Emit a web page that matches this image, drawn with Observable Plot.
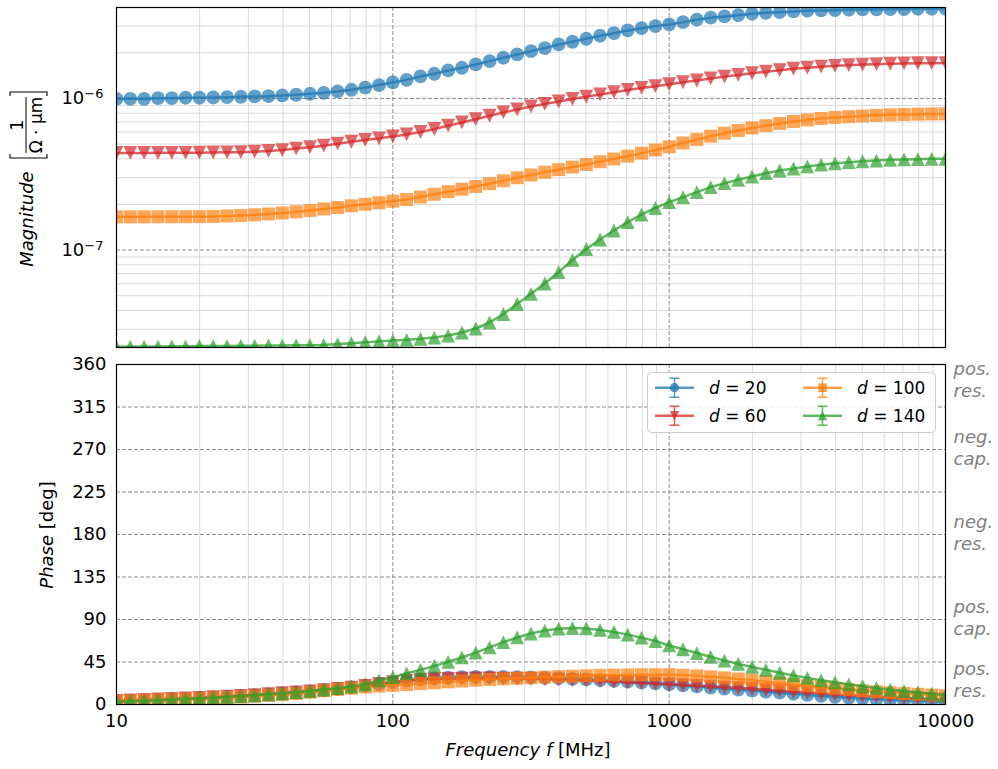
<!DOCTYPE html>
<html>
<head>
<meta charset="utf-8">
<script src="https://cdn.jsdelivr.net/npm/d3@7"></script>
<script src="https://cdn.jsdelivr.net/npm/@observablehq/plot@0.6"></script>
<style>
  html, body { margin: 0; padding: 0; background: #fff; overflow: hidden; }
  #chart { position: relative; width: 998px; height: 769px; font-family: "DejaVu Sans", sans-serif; }
  #chart svg { position: absolute; left: 0; overflow: visible; }
</style>
</head>
<body>
<div id="chart"></div>
<script>
// Sweep frequencies [MHz], 20 points per decade
const freq = [10, 11.22, 12.59, 14.13, 15.85, 17.78, 19.95, 22.39, 25.12, 28.18,
  31.62, 35.48, 39.81, 44.67, 50.12, 56.23, 63.10, 70.79, 79.43, 89.13,
  100, 112.2, 125.9, 141.3, 158.5, 177.8, 199.5, 223.9, 251.2, 281.8,
  316.2, 354.8, 398.1, 446.7, 501.2, 562.3, 631.0, 707.9, 794.3, 891.3,
  1000, 1122, 1259, 1413, 1585, 1778, 1995, 2239, 2512, 2818,
  3162, 3548, 3981, 4467, 5012, 5623, 6310, 7079, 7943, 8913, 10000];

const seriesLabels = ["20", "60", "100", "140"];
const seriesColors = ["#1f77b4", "#d62728", "#ff7f0e", "#2ca02c"];

// Magnitude [1/(Ω·µm)]
const mag20 = [0.995e-6, 0.995e-6, 0.995e-6, 1.005e-6, 1.005e-6, 1.011e-6, 1.011e-6, 1.015e-6, 1.020e-6, 1.026e-6,
  1.031e-6, 1.036e-6, 1.047e-6, 1.058e-6, 1.074e-6, 1.090e-6, 1.112e-6, 1.141e-6, 1.180e-6, 1.225e-6,
  1.275e-6, 1.328e-6, 1.397e-6, 1.455e-6, 1.530e-6, 1.594e-6, 1.676e-6, 1.762e-6, 1.856e-6, 1.951e-6,
  2.051e-6, 2.147e-6, 2.271e-6, 2.366e-6, 2.476e-6, 2.592e-6, 2.696e-6, 2.809e-6, 2.909e-6, 2.999e-6,
  3.078e-6, 3.187e-6, 3.306e-6, 3.408e-6, 3.475e-6, 3.544e-6, 3.620e-6, 3.675e-6, 3.709e-6, 3.749e-6,
  3.789e-6, 3.806e-6, 3.824e-6, 3.847e-6, 3.865e-6, 3.865e-6, 3.882e-6, 3.882e-6, 3.906e-6, 3.906e-6, 3.906e-6];
const mag60 = [0.437e-6, 0.437e-6, 0.437e-6, 0.438e-6, 0.438e-6, 0.438e-6, 0.439e-6, 0.440e-6, 0.441e-6, 0.442e-6,
  0.446e-6, 0.451e-6, 0.457e-6, 0.467e-6, 0.477e-6, 0.488e-6, 0.503e-6, 0.518e-6, 0.533e-6, 0.546e-6,
  0.562e-6, 0.579e-6, 0.601e-6, 0.629e-6, 0.661e-6, 0.695e-6, 0.730e-6, 0.769e-6, 0.809e-6, 0.846e-6,
  0.886e-6, 0.920e-6, 0.955e-6, 0.992e-6, 1.026e-6, 1.063e-6, 1.100e-6, 1.138e-6, 1.173e-6, 1.205e-6,
  1.241e-6, 1.279e-6, 1.314e-6, 1.355e-6, 1.393e-6, 1.429e-6, 1.466e-6, 1.502e-6, 1.537e-6, 1.570e-6,
  1.597e-6, 1.621e-6, 1.641e-6, 1.658e-6, 1.673e-6, 1.684e-6, 1.694e-6, 1.702e-6, 1.707e-6, 1.710e-6, 1.712e-6];
const mag100 = [0.1655e-6, 0.1656e-6, 0.1657e-6, 0.1658e-6, 0.1659e-6, 0.1660e-6, 0.1662e-6, 0.1666e-6, 0.1679e-6, 0.1691e-6,
  0.1709e-6, 0.1730e-6, 0.1757e-6, 0.1789e-6, 0.1825e-6, 0.1867e-6, 0.1910e-6, 0.1960e-6, 0.2005e-6, 0.2051e-6,
  0.2102e-6, 0.2157e-6, 0.2240e-6, 0.2334e-6, 0.2428e-6, 0.2522e-6, 0.2627e-6, 0.2742e-6, 0.2865e-6, 0.2999e-6,
  0.3130e-6, 0.3261e-6, 0.3392e-6, 0.3528e-6, 0.3670e-6, 0.3824e-6, 0.3990e-6, 0.4164e-6, 0.4358e-6, 0.4574e-6,
  0.4802e-6, 0.5087e-6, 0.5366e-6, 0.5641e-6, 0.5904e-6, 0.6151e-6, 0.6389e-6, 0.6616e-6, 0.6841e-6, 0.7051e-6,
  0.7225e-6, 0.7381e-6, 0.7494e-6, 0.7585e-6, 0.7666e-6, 0.7736e-6, 0.7795e-6, 0.7843e-6, 0.7878e-6, 0.7903e-6, 0.7927e-6];
const mag140 = [0.0230e-6, 0.0231e-6, 0.0231e-6, 0.0231e-6, 0.0232e-6, 0.0232e-6, 0.0233e-6, 0.0233e-6, 0.0233e-6, 0.0234e-6,
  0.0234e-6, 0.0235e-6, 0.0235e-6, 0.0236e-6, 0.0236e-6, 0.0237e-6, 0.0240e-6, 0.0243e-6, 0.0247e-6, 0.0250e-6,
  0.0253e-6, 0.0256e-6, 0.0260e-6, 0.0265e-6, 0.0273e-6, 0.0286e-6, 0.0304e-6, 0.0333e-6, 0.0379e-6, 0.0441e-6,
  0.0515e-6, 0.0602e-6, 0.0715e-6, 0.0861e-6, 0.1017e-6, 0.1174e-6, 0.1346e-6, 0.1528e-6, 0.1717e-6, 0.1895e-6,
  0.2070e-6, 0.2234e-6, 0.2409e-6, 0.2600e-6, 0.2762e-6, 0.2908e-6, 0.3058e-6, 0.3216e-6, 0.3350e-6, 0.3453e-6,
  0.3560e-6, 0.3659e-6, 0.3738e-6, 0.3800e-6, 0.3853e-6, 0.3899e-6, 0.3936e-6, 0.3960e-6, 0.3978e-6, 0.3996e-6, 0.4002e-6];

// Phase [deg]
const phase20 = [3.5, 3.9, 4.4, 4.9, 5.4, 6.0, 6.6, 7.3, 8.0, 8.8,
  9.7, 10.6, 11.6, 12.7, 13.9, 15.2, 16.6, 18.2, 19.9, 21.7,
  23.6, 25.3, 26.7, 27.8, 28.5, 29.0, 29.2, 29.3, 29.2, 29.0,
  28.7, 28.3, 27.8, 27.2, 26.5, 25.8, 25.0, 24.2, 23.3, 22.3,
  21.3, 20.2, 19.1, 18.0, 16.9, 15.8, 14.7, 13.6, 12.5, 11.4,
  10.2, 9.1, 8.1, 7.2, 6.4, 5.7, 5.1, 4.5, 4.0, 3.5, 3.0];
const phase60 = [3.9, 4.3, 4.8, 5.3, 5.8, 6.4, 7.0, 7.7, 8.4, 9.2,
  10.0, 10.9, 11.9, 12.9, 14.0, 15.2, 16.5, 17.9, 19.8, 21.8,
  23.7, 25.2, 26.2, 26.8, 27.2, 27.5, 27.6, 27.6, 27.5, 27.3,
  27.0, 26.7, 26.3, 25.8, 25.3, 24.7, 24.1, 23.5, 22.8, 22.1,
  21.4, 20.6, 19.8, 19.0, 18.2, 17.4, 16.6, 15.5, 14.5, 13.5,
  12.6, 11.6, 10.7, 9.8, 9.0, 8.3, 7.6, 7.0, 6.4, 5.9, 5.4];
const phase100 = [3.6, 3.9, 4.3, 4.7, 5.1, 5.6, 6.1, 6.7, 7.3, 8.0,
  8.7, 9.5, 10.4, 11.5, 13.0, 14.5, 16.0, 17.3, 18.5, 19.5,
  20.3, 21.2, 22.1, 23.0, 24.0, 24.9, 25.7, 26.5, 27.2, 27.8,
  28.4, 29.0, 29.5, 30.0, 30.4, 30.8, 31.1, 31.3, 31.5, 31.6,
  31.6, 31.0, 30.3, 29.3, 28.2, 27.0, 25.6, 24.2, 22.8, 21.3,
  19.9, 18.5, 17.1, 15.8, 14.6, 13.5, 12.5, 11.6, 10.8, 10.0, 9.3];
const phase140 = [3.0, 3.5, 4.0, 4.6, 5.2, 5.8, 6.5, 7.2, 8.0, 8.9,
  9.8, 10.8, 11.9, 13.1, 14.4, 15.8, 17.3, 19.1, 21.3, 25.5,
  29.0, 33.0, 36.7, 40.8, 45.2, 49.8, 55.0, 60.5, 66.0, 71.0,
  75.2, 78.3, 80.3, 81.0, 80.5, 79.0, 76.8, 74.0, 70.8, 67.2,
  62.5, 58.5, 54.5, 50.5, 46.5, 43.0, 39.8, 36.7, 33.6, 30.8,
  28.2, 25.7, 23.5, 21.3, 19.3, 17.5, 15.8, 14.2, 12.8, 11.4, 10.0];

const magnitude = [mag20, mag60, mag100, mag140];
const phase = [phase20, phase60, phase100, phase140];

// Axis ticks and annotations
const freqTicks = [10, 100, 1000, 10000];
const magTicks = [1e-7, 1e-6];
const magDomain = [2.278e-8, 3.98e-6];
const phaseTicks = [0, 45, 90, 135, 180, 225, 270, 315, 360];
const regionText = ["pos.\nres.", "pos.\ncap.", "neg.\nres.", "neg.\ncap.", "pos.\nres."];
const regionPhase = [27, 93, 183, 273, 345];

// Marker shapes (circle, triangle down, square, triangle up)
const rOf = size => Math.sqrt(size / Math.PI);
const circle = {draw(ctx, size) { const r = rOf(size); ctx.moveTo(r, 0); ctx.arc(0, 0, r, 0, 2 * Math.PI); ctx.closePath(); }};
const square = {draw(ctx, size) { const r = rOf(size) * 0.94; ctx.rect(-r, -r, 2 * r, 2 * r); }};
const triUp = {draw(ctx, size) { const r = rOf(size); ctx.moveTo(0, -r); ctx.lineTo(r, r); ctx.lineTo(-r, r); ctx.closePath(); }};
const triDown = {draw(ctx, size) { const r = rOf(size); ctx.moveTo(0, r); ctx.lineTo(r, -r); ctx.lineTo(-r, -r); ctx.closePath(); }};
const markers = [circle, triDown, square, triUp];

const FONT = "DejaVu Sans, sans-serif";
const gridMinor = "#dadada";
const gridMajor = "#8c8c8c";

const isMajor = t => Math.abs(Math.log10(t) - Math.round(Math.log10(t))) < 1e-9;
const minorFreq = d3.scaleLog().domain([10, 10000]).ticks().filter(t => !isMajor(t));
const minorMag = d3.scaleLog().domain(magDomain).ticks().filter(t => !isMajor(t));

function seriesMarks(values, k) {
  const rows = freq.map((f, i) => ({f, v: values[i]}));
  return [
    Plot.line(rows, {x: "f", y: "v", stroke: seriesColors[k], strokeWidth: 2.5, strokeOpacity: 0.75, clip: true}),
    Plot.dot(rows, {x: "f", y: "v", symbol: markers[k], r: 6.9, fill: seriesColors[k], fillOpacity: 0.7, stroke: "none", clip: true})
  ];
}

const common = {
  width: 998,
  marginLeft: 116,
  marginRight: 53,
  style: {fontFamily: FONT, fontSize: "18px", color: "#000", background: "transparent", overflow: "visible"}
};

// Upper panel: magnitude on log–log axes
const topPlot = Plot.plot({
  ...common,
  height: 350,
  marginTop: 7,
  marginBottom: 3,
  x: {type: "log", domain: [10, 10000], axis: null},
  y: {type: "log", domain: magDomain, axis: null},
  marks: [
    Plot.ruleX(minorFreq, {stroke: gridMinor, strokeWidth: 1}),
    Plot.ruleY(minorMag, {stroke: gridMinor, strokeWidth: 1}),
    Plot.ruleX([100, 1000], {stroke: gridMajor, strokeWidth: 1, strokeDasharray: "4,2"}),
    Plot.ruleY(magTicks, {stroke: gridMajor, strokeWidth: 1, strokeDasharray: "4,2"}),
    ...magnitude.flatMap((m, k) => seriesMarks(m, k)),
    Plot.axisY(magTicks, {tickSize: 0, tickPadding: 13, label: null,
      tickFormat: d => "10|−" + Math.round(-Math.log10(d))}),
    Plot.frame({stroke: "#000", strokeWidth: 1.2})
  ]
});

// Lower panel: phase
const bottomPlot = Plot.plot({
  ...common,
  height: 419,
  marginTop: 14,
  marginBottom: 65,
  x: {type: "log", domain: [10, 10000], axis: null},
  y: {domain: [0, 360], axis: null},
  marks: [
    Plot.ruleX(minorFreq, {stroke: gridMinor, strokeWidth: 1}),
    Plot.ruleX([100, 1000], {stroke: gridMajor, strokeWidth: 1, strokeDasharray: "4,2"}),
    Plot.ruleY(phaseTicks.filter(t => t > 0 && t < 360), {stroke: gridMajor, strokeWidth: 1, strokeDasharray: "4,2"}),
    ...phase.flatMap((p, k) => seriesMarks(p, k)),
    Plot.axisY(phaseTicks, {tickSize: 0, tickPadding: 10, label: null, tickFormat: d => String(d)}),
    Plot.axisX(freqTicks, {tickSize: 0, tickPadding: 10, label: null, tickFormat: d => String(d)}),
    Plot.text(regionText.map((t, i) => ({t, p: regionPhase[i]})), {
      y: "p", text: "t", frameAnchor: "right", textAnchor: "start", dx: 8,
      fill: "#808080", fontStyle: "italic", fontSize: 18, lineHeight: 1.22
    }),
    Plot.frame({stroke: "#000", strokeWidth: 1.2})
  ]
});

const chart = document.getElementById("chart");
topPlot.style.top = "0px";
bottomPlot.style.top = "350px";
chart.append(topPlot, bottomPlot);

// Superscript exponents on the magnitude tick labels
topPlot.querySelectorAll('g[aria-label="y-axis tick label"] text').forEach(t => {
  const [base, exp] = t.textContent.split("|");
  t.textContent = base;
  const sup = document.createElementNS("http://www.w3.org/2000/svg", "tspan");
  sup.setAttribute("dy", "-0.45em");
  sup.setAttribute("font-size", "13px");
  sup.textContent = exp;
  t.appendChild(sup);
});

// Axis titles and legend
const ov = d3.select(chart).append("svg")
  .attr("width", 998).attr("height", 769)
  .style("top", "0px")
  .attr("font-family", FONT).attr("font-size", 18);

const mg = ov.append("g").attr("transform", "rotate(-90)");
mg.append("text").attr("x", -219).attr("y", 32.5).attr("text-anchor", "middle")
  .attr("font-style", "italic").text("Magnitude");
mg.append("path").attr("d", "M-154,10H-158V47H-154").attr("fill", "none").attr("stroke", "#000").attr("stroke-width", 1.1);
mg.append("path").attr("d", "M-96,10H-92V47H-96").attr("fill", "none").attr("stroke", "#000").attr("stroke-width", 1.1);
mg.append("line").attr("x1", -153).attr("x2", -97).attr("y1", 26).attr("y2", 26).attr("stroke", "#000").attr("stroke-width", 1);
mg.append("text").attr("x", -125).attr("y", 23).attr("text-anchor", "middle").attr("font-size", 17).text("1");
mg.append("text").attr("x", -125).attr("y", 42).attr("text-anchor", "middle").attr("font-size", 17).text("Ω · µm");

const ph = ov.append("text").attr("transform", "rotate(-90)").attr("x", -535).attr("y", 53).attr("text-anchor", "middle");
ph.append("tspan").attr("font-style", "italic").text("Phase");
ph.append("tspan").text(" [deg]");

const fx = ov.append("text").attr("x", 528).attr("y", 756).attr("text-anchor", "middle");
fx.append("tspan").attr("font-style", "italic").text("Frequency f");
fx.append("tspan").text(" [MHz]");

const lg = ov.append("g").attr("font-size", 17);
lg.append("rect").attr("x", 647.5).attr("y", 372.5).attr("width", 288).attr("height", 60).attr("rx", 4)
  .attr("fill", "#fff").attr("fill-opacity", 0.85).attr("stroke", "#cccccc").attr("stroke-width", 1);
seriesLabels.forEach((lab, k) => {
  const col = k >> 1, row = k & 1;
  const x0 = [655, 803][col], y0 = [387.7, 415.7][row], cx = x0 + 19.5;
  const c = seriesColors[k];
  const g = lg.append("g").attr("stroke", c).attr("stroke-opacity", 0.75);
  g.append("line").attr("x1", x0).attr("x2", x0 + 39).attr("y1", y0).attr("y2", y0).attr("stroke-width", 2.5);
  g.append("line").attr("x1", cx).attr("x2", cx).attr("y1", y0 - 9.5).attr("y2", y0 + 9.5).attr("stroke-width", 1.5);
  g.append("line").attr("x1", cx - 5).attr("x2", cx + 5).attr("y1", y0 - 9.5).attr("y2", y0 - 9.5).attr("stroke-width", 1.5);
  g.append("line").attr("x1", cx - 5).attr("x2", cx + 5).attr("y1", y0 + 9.5).attr("y2", y0 + 9.5).attr("stroke-width", 1.5);
  lg.append("path").attr("transform", `translate(${cx},${y0})`)
    .attr("d", d3.symbol(markers[k], Math.PI * 4.6 * 4.6)())
    .attr("fill", c).attr("fill-opacity", 0.75);
  const t = lg.append("text").attr("x", x0 + 54).attr("y", y0 + 6.5);
  t.append("tspan").attr("font-style", "italic").text("d");
  t.append("tspan").text(" = " + lab);
});
</script>
</body>
</html>
